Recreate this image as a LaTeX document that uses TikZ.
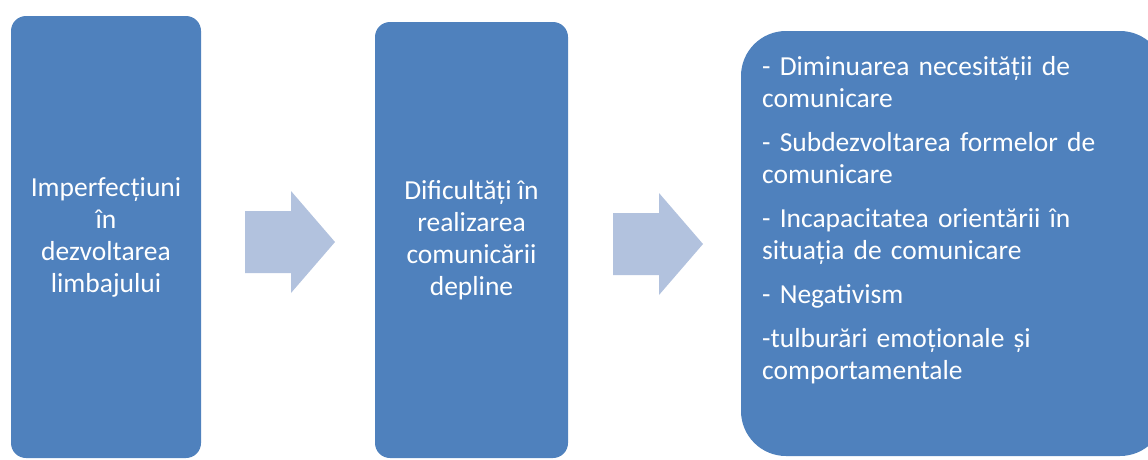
\documentclass[tikz,border=0pt]{standalone}
\usepackage{fontspec}
\setmainfont{Carlito}
\definecolor{boxblue}{HTML}{4F81BD}
\definecolor{arrowblue}{HTML}{B2C2DE}
\tikzset{
    stage/.style={fill=boxblue, rounded corners=15pt, text=white, align=center,
        font=\fontsize{27.5}{32}\selectfont, inner sep=0pt},
    blockarrow/.style={fill=arrowblue}
}
\begin{document}
\begin{tikzpicture}[x=1pt, y=-1pt]
        \useasboundingbox (0, 0) rectangle (1148, 459);
        \clip (0, 0) rectangle (1148, 459);
        \node[stage, minimum width=190pt, minimum height=442pt] at (106, 237) (s1)
            {Imperfecțiuni\\în\\dezvoltarea\\limbajului};
        \node[stage, minimum width=193pt, minimum height=436pt] at (471.5, 240) (s2)
            {Dificultăți în\\realizarea\\comunicării\\depline};
        \node[stage, rounded corners=45pt, minimum width=424pt, minimum height=425pt] at (953, 243.5) (s3) {};
        \node[text=white, align=left, text width=380pt, inner sep=0pt, anchor=north west,
            font=\fontsize{27.5}{32}\selectfont] at (762, 56) (effects)
            {- Diminuarea necesității de\\comunicare\\[12pt]
             - Subdezvoltarea formelor de\\comunicare\\[12pt]
             - Incapacitatea orientării în\\situația de comunicare\\[12pt]
             - Negativism\\[12pt]
             -tulburări emoționale și\\comportamentale};
        % block arrows between the stages
        \foreach \x/\y in {245/242, 613/244}
            \fill[blockarrow] (\x, \y-31) -- (\x+46, \y-31) -- (\x+46, \y-51) -- (\x+90, \y)
                -- (\x+46, \y+51) -- (\x+46, \y+31) -- (\x, \y+31) -- cycle;
    \end{tikzpicture}
\end{document}
